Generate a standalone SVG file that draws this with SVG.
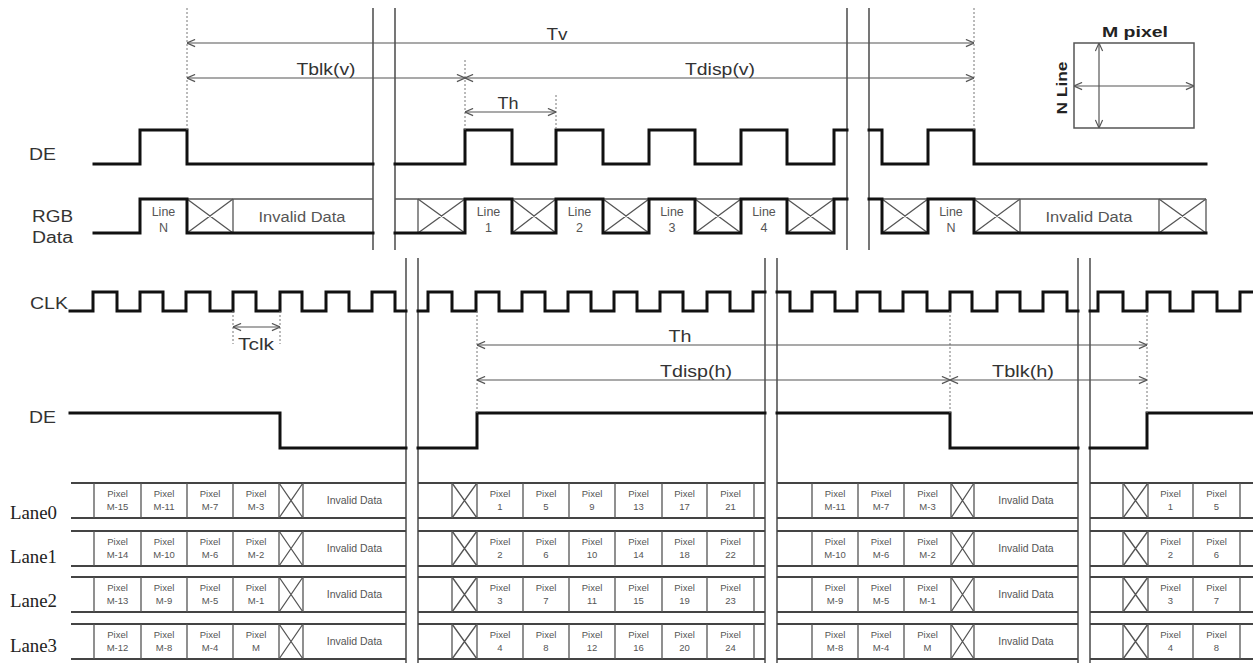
<svg xmlns="http://www.w3.org/2000/svg" width="1253" height="663" viewBox="0 0 1253 663">
<style>
.sig{fill:none;stroke:#111;stroke-width:3;stroke-linejoin:miter;stroke-linecap:square}
.brk{stroke:#555;stroke-width:1.6;fill:none}
.thin{fill:none;stroke:#555;stroke-width:1.3}
.lanel{fill:none;stroke:#444;stroke-width:2}
.dot{stroke:#777;stroke-width:1;stroke-dasharray:2 2;fill:none}
.arr{stroke:#555;stroke-width:1.2;fill:none;marker-start:url(#ah);marker-end:url(#ah)}
.lbl{font-family:"Liberation Sans",Arial,sans-serif;font-size:16px;fill:#333}
.mid{text-anchor:middle}
.ln{font-family:"Liberation Sans",Arial,sans-serif;font-size:12.5px;fill:#555;text-anchor:middle}
.inv{font-family:"Liberation Sans",Arial,sans-serif;font-size:14px;fill:#555;text-anchor:middle}
.cell{font-family:"Liberation Sans",Arial,sans-serif;font-size:9.5px;fill:#555;text-anchor:middle}
.cinv{font-family:"Liberation Sans",Arial,sans-serif;font-size:10.5px;fill:#555;text-anchor:middle}
.lane{font-family:"Liberation Serif","Times New Roman",serif;font-size:19px;fill:#222}
.bold{font-family:"Liberation Sans",Arial,sans-serif;font-size:15px;font-weight:bold;fill:#222}
</style>
<defs>
<marker id="ah" viewBox="0 0 10 10" refX="10" refY="5" markerWidth="9" markerHeight="9" markerUnits="userSpaceOnUse" orient="auto-start-reverse">
<path d="M1,1 L10,5 L1,9" fill="none" stroke="#555" stroke-width="1.3"/>
</marker>
</defs>
<rect width="1253" height="663" fill="#fff"/>

<!-- break lines -->
<g id="breaks">
<path class="brk" d="M373,8 V250 M395,8 V250 M847,8 V250 M869,8 V250"/>
<path class="brk" d="M406,258 V663 M418,258 V663 M765,258 V663 M777,258 V663 M1078,258 V663 M1090,258 V663"/>
</g>

<!-- frame-level DE -->
<g id="de-v">
<text class="lbl" x="29" y="160" textLength="27" lengthAdjust="spacingAndGlyphs">DE</text>
<path class="sig" d="M94,164 H140 V130 H187 V164 H373"/>
<path class="sig" d="M395,164 H465 V130 H512 V164 H556 V130 H603 V164 H649 V130 H695 V164 H741 V130 H787 V164 H834 V130 H847"/>
<path class="sig" d="M869,130 H882 V164 H928 V130 H974 V164 H1206"/>
</g>

<!-- RGB data -->
<g id="rgb">
<text class="lbl" x="32" y="222" textLength="41" lengthAdjust="spacingAndGlyphs">RGB</text>
<text class="lbl" x="32" y="243" textLength="41" lengthAdjust="spacingAndGlyphs">Data</text>
<path class="thin" d="M187,199 H373 M395,199 H465 M512,199 H556 M603,199 H649 M695,199 H741 M787,199 H834 M882,199 H928 M974,199 H1206"/>
<path class="thin" d="M233,199 V233 M418,199 V233 M1020,199 V233 M1159,199 V233 M1206,199 V233"/>
<path class="thin" d="M187,199 L233,233 M187,233 L233,199 M418,199 L465,233 M418,233 L465,199 M512,199 L556,233 M512,233 L556,199 M603,199 L649,233 M603,233 L649,199 M695,199 L741,233 M695,233 L741,199 M787,199 L834,233 M787,233 L834,199 M882,199 L928,233 M882,233 L928,199 M974,199 L1020,233 M974,233 L1020,199 M1159,199 L1206,233 M1159,233 L1206,199"/>
<path class="sig" d="M94,233 H140 V199 H187 V233 H373"/>
<path class="sig" d="M395,233 H465 V199 H512 V233 H556 V199 H603 V233 H649 V199 H695 V233 H741 V199 H787 V233 H834 V199 H847"/>
<path class="sig" d="M869,199 H882 V233 H928 V199 H974 V233 H1206"/>
<text class="ln" x="163.5" y="216">Line</text><text class="ln" x="163.5" y="232">N</text>
<text class="ln" x="488.5" y="216">Line</text><text class="ln" x="488.5" y="232">1</text>
<text class="ln" x="579.5" y="216">Line</text><text class="ln" x="579.5" y="232">2</text>
<text class="ln" x="672" y="216">Line</text><text class="ln" x="672" y="232">3</text>
<text class="ln" x="764" y="216">Line</text><text class="ln" x="764" y="232">4</text>
<text class="ln" x="951" y="216">Line</text><text class="ln" x="951" y="232">N</text>
<text class="inv" x="302" y="222" textLength="87" lengthAdjust="spacingAndGlyphs">Invalid Data</text>
<text class="inv" x="1089" y="222" textLength="87" lengthAdjust="spacingAndGlyphs">Invalid Data</text>
</g>

<!-- M pixel / N Line frame -->
<g id="frame-box">
<rect x="1074" y="43" width="120" height="85" fill="none" stroke="#555" stroke-width="1.5"/>
<text class="bold mid" x="1135" y="37" textLength="66" lengthAdjust="spacingAndGlyphs">M pixel</text>
<text class="bold mid" x="1067" y="88" transform="rotate(-90 1067 88)" textLength="53" lengthAdjust="spacingAndGlyphs">N Line</text>
</g>

<!-- CLK -->
<g id="clk">
<text class="lbl" x="30" y="309" textLength="38" lengthAdjust="spacingAndGlyphs">CLK</text>
<path class="sig" d="M70,311 H93 V292 H117 V311 H140 V292 H163 V311 H186 V292 H210 V311 H233 V292 H256 V311 H280 V292 H302 V311 H326 V292 H349 V311 H372 V292 H395 V311 H406"/>
<path class="sig" d="M418,311 H428 V292 H452 V311 H476 V292 H499 V311 H522 V292 H545 V311 H568 V292 H591 V311 H614 V292 H637 V311 H660 V292 H683 V311 H707 V292 H730 V311 H753 V292 H765"/>
<path class="sig" d="M777,292 H790 V311 H812 V292 H835 V311 H857 V292 H880 V311 H903 V292 H927 V311 H950 V292 H972 V311 H997 V292 H1020 V311 H1043 V292 H1067 V311 H1078"/>
<path class="sig" d="M1090,311 H1098 V292 H1123 V311 H1147 V292 H1170 V311 H1193 V292 H1217 V311 H1240 V292 H1253"/>
</g>

<!-- line-level DE -->
<g id="de-h">
<text class="lbl" x="29" y="423" textLength="27" lengthAdjust="spacingAndGlyphs">DE</text>
<path class="sig" d="M70,413 H280 V448 H406"/>
<path class="sig" d="M418,448 H477 V413 H765"/>
<path class="sig" d="M777,413 H950 V448 H1078"/>
<path class="sig" d="M1090,448 H1147 V413 H1253"/>
</g>

<!-- dimension connectors -->
<g id="connectors">
<path class="dot" d="M187,8 V130 M974,8 V130 M465,60 V130 M556,95 V130"/>
<path class="dot" d="M233,311 V344 M280,311 V344 M477,311 V413 M950,311 V413 M1147,311 V413"/>
<line class="arr" x1="187" y1="43" x2="974" y2="43"/>
<line class="arr" x1="187" y1="78" x2="465" y2="78"/>
<line class="arr" x1="465" y1="78" x2="974" y2="78"/>
<line class="arr" x1="465" y1="112" x2="556" y2="112"/>
<line class="arr" x1="1099" y1="43" x2="1099" y2="128"/>
<line class="arr" x1="1074" y1="86" x2="1194" y2="86"/>
<line class="arr" x1="233" y1="327" x2="280" y2="327"/>
<line class="arr" x1="477" y1="345" x2="1147" y2="345"/>
<line class="arr" x1="477" y1="380" x2="950" y2="380"/>
<line class="arr" x1="950" y1="380" x2="1147" y2="380"/>
<text class="lbl mid" x="557" y="40" textLength="21" lengthAdjust="spacingAndGlyphs">Tv</text>
<text class="lbl mid" x="326" y="75" textLength="59" lengthAdjust="spacingAndGlyphs">Tblk(v)</text>
<text class="lbl mid" x="720" y="75" textLength="70" lengthAdjust="spacingAndGlyphs">Tdisp(v)</text>
<text class="lbl mid" x="508" y="109" textLength="21" lengthAdjust="spacingAndGlyphs">Th</text>
<text class="lbl mid" x="256" y="350" textLength="36" lengthAdjust="spacingAndGlyphs">Tclk</text>
<text class="lbl mid" x="680" y="342" textLength="23" lengthAdjust="spacingAndGlyphs">Th</text>
<text class="lbl mid" x="696" y="377" textLength="72" lengthAdjust="spacingAndGlyphs">Tdisp(h)</text>
<text class="lbl mid" x="1023" y="377" textLength="62" lengthAdjust="spacingAndGlyphs">Tblk(h)</text>
</g>

<!-- Lanes -->
<g id="lane0">
<text class="lane" x="10" y="519" textLength="47" lengthAdjust="spacingAndGlyphs">Lane0</text>
<path class="lanel" d="M71,483 H406 M71,518 H406 M418,483 H765 M418,518 H765 M777,483 H1078 M777,518 H1078 M1090,483 H1253 M1090,518 H1253"/>
<path class="thin" d="M94,483 V518 M141,483 V518 M187,483 V518 M233,483 V518 M279,483 V518 M303,483 V518 M452,483 V518 M477,483 V518 M523,483 V518 M569,483 V518 M615,483 V518 M662,483 V518 M707,483 V518 M754,483 V518 M812,483 V518 M858,483 V518 M904,483 V518 M951,483 V518 M974,483 V518 M1123,483 V518 M1148,483 V518 M1193,483 V518 M1240,483 V518"/>
<path class="thin" d="M279,483 L303,518 M279,518 L303,483 M452,483 L477,518 M452,518 L477,483 M951,483 L974,518 M951,518 L974,483 M1123,483 L1148,518 M1123,518 L1148,483"/>
<g class="cell">
<text x="117.5" y="497">Pixel</text><text x="117.5" y="510">M-15</text>
<text x="164" y="497">Pixel</text><text x="164" y="510">M-11</text>
<text x="210" y="497">Pixel</text><text x="210" y="510">M-7</text>
<text x="256" y="497">Pixel</text><text x="256" y="510">M-3</text>
<text x="500" y="497">Pixel</text><text x="500" y="510">1</text>
<text x="546" y="497">Pixel</text><text x="546" y="510">5</text>
<text x="592" y="497">Pixel</text><text x="592" y="510">9</text>
<text x="638.5" y="497">Pixel</text><text x="638.5" y="510">13</text>
<text x="684.5" y="497">Pixel</text><text x="684.5" y="510">17</text>
<text x="730.5" y="497">Pixel</text><text x="730.5" y="510">21</text>
<text x="835" y="497">Pixel</text><text x="835" y="510">M-11</text>
<text x="881" y="497">Pixel</text><text x="881" y="510">M-7</text>
<text x="927.5" y="497">Pixel</text><text x="927.5" y="510">M-3</text>
<text x="1170.5" y="497">Pixel</text><text x="1170.5" y="510">1</text>
<text x="1216.5" y="497">Pixel</text><text x="1216.5" y="510">5</text>
</g>
<text class="cinv" x="354.5" y="504">Invalid Data</text>
<text class="cinv" x="1026" y="504">Invalid Data</text>
</g>

<g id="lane1">
<text class="lane" x="10" y="563" textLength="47" lengthAdjust="spacingAndGlyphs">Lane1</text>
<path class="lanel" d="M71,531 H406 M71,566 H406 M418,531 H765 M418,566 H765 M777,531 H1078 M777,566 H1078 M1090,531 H1253 M1090,566 H1253"/>
<path class="thin" d="M94,531 V566 M141,531 V566 M187,531 V566 M233,531 V566 M279,531 V566 M303,531 V566 M452,531 V566 M477,531 V566 M523,531 V566 M569,531 V566 M615,531 V566 M662,531 V566 M707,531 V566 M754,531 V566 M812,531 V566 M858,531 V566 M904,531 V566 M951,531 V566 M974,531 V566 M1123,531 V566 M1148,531 V566 M1193,531 V566 M1240,531 V566"/>
<path class="thin" d="M279,531 L303,566 M279,566 L303,531 M452,531 L477,566 M452,566 L477,531 M951,531 L974,566 M951,566 L974,531 M1123,531 L1148,566 M1123,566 L1148,531"/>
<g class="cell">
<text x="117.5" y="545">Pixel</text><text x="117.5" y="558">M-14</text>
<text x="164" y="545">Pixel</text><text x="164" y="558">M-10</text>
<text x="210" y="545">Pixel</text><text x="210" y="558">M-6</text>
<text x="256" y="545">Pixel</text><text x="256" y="558">M-2</text>
<text x="500" y="545">Pixel</text><text x="500" y="558">2</text>
<text x="546" y="545">Pixel</text><text x="546" y="558">6</text>
<text x="592" y="545">Pixel</text><text x="592" y="558">10</text>
<text x="638.5" y="545">Pixel</text><text x="638.5" y="558">14</text>
<text x="684.5" y="545">Pixel</text><text x="684.5" y="558">18</text>
<text x="730.5" y="545">Pixel</text><text x="730.5" y="558">22</text>
<text x="835" y="545">Pixel</text><text x="835" y="558">M-10</text>
<text x="881" y="545">Pixel</text><text x="881" y="558">M-6</text>
<text x="927.5" y="545">Pixel</text><text x="927.5" y="558">M-2</text>
<text x="1170.5" y="545">Pixel</text><text x="1170.5" y="558">2</text>
<text x="1216.5" y="545">Pixel</text><text x="1216.5" y="558">6</text>
</g>
<text class="cinv" x="354.5" y="552">Invalid Data</text>
<text class="cinv" x="1026" y="552">Invalid Data</text>
</g>

<g id="lane2">
<text class="lane" x="10" y="607" textLength="47" lengthAdjust="spacingAndGlyphs">Lane2</text>
<path class="lanel" d="M71,577 H406 M71,612 H406 M418,577 H765 M418,612 H765 M777,577 H1078 M777,612 H1078 M1090,577 H1253 M1090,612 H1253"/>
<path class="thin" d="M94,577 V612 M141,577 V612 M187,577 V612 M233,577 V612 M279,577 V612 M303,577 V612 M452,577 V612 M477,577 V612 M523,577 V612 M569,577 V612 M615,577 V612 M662,577 V612 M707,577 V612 M754,577 V612 M812,577 V612 M858,577 V612 M904,577 V612 M951,577 V612 M974,577 V612 M1123,577 V612 M1148,577 V612 M1193,577 V612 M1240,577 V612"/>
<path class="thin" d="M279,577 L303,612 M279,612 L303,577 M452,577 L477,612 M452,612 L477,577 M951,577 L974,612 M951,612 L974,577 M1123,577 L1148,612 M1123,612 L1148,577"/>
<g class="cell">
<text x="117.5" y="591">Pixel</text><text x="117.5" y="604">M-13</text>
<text x="164" y="591">Pixel</text><text x="164" y="604">M-9</text>
<text x="210" y="591">Pixel</text><text x="210" y="604">M-5</text>
<text x="256" y="591">Pixel</text><text x="256" y="604">M-1</text>
<text x="500" y="591">Pixel</text><text x="500" y="604">3</text>
<text x="546" y="591">Pixel</text><text x="546" y="604">7</text>
<text x="592" y="591">Pixel</text><text x="592" y="604">11</text>
<text x="638.5" y="591">Pixel</text><text x="638.5" y="604">15</text>
<text x="684.5" y="591">Pixel</text><text x="684.5" y="604">19</text>
<text x="730.5" y="591">Pixel</text><text x="730.5" y="604">23</text>
<text x="835" y="591">Pixel</text><text x="835" y="604">M-9</text>
<text x="881" y="591">Pixel</text><text x="881" y="604">M-5</text>
<text x="927.5" y="591">Pixel</text><text x="927.5" y="604">M-1</text>
<text x="1170.5" y="591">Pixel</text><text x="1170.5" y="604">3</text>
<text x="1216.5" y="591">Pixel</text><text x="1216.5" y="604">7</text>
</g>
<text class="cinv" x="354.5" y="598">Invalid Data</text>
<text class="cinv" x="1026" y="598">Invalid Data</text>
</g>

<g id="lane3">
<text class="lane" x="10" y="652" textLength="47" lengthAdjust="spacingAndGlyphs">Lane3</text>
<path class="lanel" d="M71,624 H406 M71,659 H406 M418,624 H765 M418,659 H765 M777,624 H1078 M777,659 H1078 M1090,624 H1253 M1090,659 H1253"/>
<path class="thin" d="M94,624 V659 M141,624 V659 M187,624 V659 M233,624 V659 M279,624 V659 M303,624 V659 M452,624 V659 M477,624 V659 M523,624 V659 M569,624 V659 M615,624 V659 M662,624 V659 M707,624 V659 M754,624 V659 M812,624 V659 M858,624 V659 M904,624 V659 M951,624 V659 M974,624 V659 M1123,624 V659 M1148,624 V659 M1193,624 V659 M1240,624 V659"/>
<path class="thin" d="M279,624 L303,659 M279,659 L303,624 M452,624 L477,659 M452,659 L477,624 M951,624 L974,659 M951,659 L974,624 M1123,624 L1148,659 M1123,659 L1148,624"/>
<g class="cell">
<text x="117.5" y="638">Pixel</text><text x="117.5" y="651">M-12</text>
<text x="164" y="638">Pixel</text><text x="164" y="651">M-8</text>
<text x="210" y="638">Pixel</text><text x="210" y="651">M-4</text>
<text x="256" y="638">Pixel</text><text x="256" y="651">M</text>
<text x="500" y="638">Pixel</text><text x="500" y="651">4</text>
<text x="546" y="638">Pixel</text><text x="546" y="651">8</text>
<text x="592" y="638">Pixel</text><text x="592" y="651">12</text>
<text x="638.5" y="638">Pixel</text><text x="638.5" y="651">16</text>
<text x="684.5" y="638">Pixel</text><text x="684.5" y="651">20</text>
<text x="730.5" y="638">Pixel</text><text x="730.5" y="651">24</text>
<text x="835" y="638">Pixel</text><text x="835" y="651">M-8</text>
<text x="881" y="638">Pixel</text><text x="881" y="651">M-4</text>
<text x="927.5" y="638">Pixel</text><text x="927.5" y="651">M</text>
<text x="1170.5" y="638">Pixel</text><text x="1170.5" y="651">4</text>
<text x="1216.5" y="638">Pixel</text><text x="1216.5" y="651">8</text>
</g>
<text class="cinv" x="354.5" y="645">Invalid Data</text>
<text class="cinv" x="1026" y="645">Invalid Data</text>
</g>
</svg>
